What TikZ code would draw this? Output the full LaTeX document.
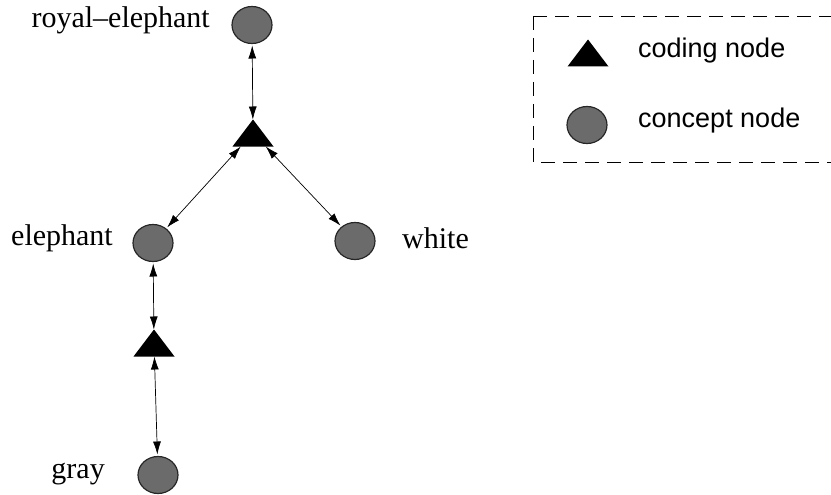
\documentclass[tikz,border=0pt]{standalone}
\usepackage{fontspec}
\setmainfont{Liberation Serif}
\newfontfamily\legendfont{Liberation Sans}
\usetikzlibrary{arrows.meta,shapes.geometric}
\tikzset{
  concept/.style={ellipse,draw=black!85,line width=1.2pt,fill=black!58,minimum width=40pt,minimum height=37pt,inner sep=0pt,outer sep=2pt},
  coding/.style={rectangle,draw=none,minimum width=37pt,minimum height=23pt,inner sep=0pt,outer sep=2pt},
  lbl/.style={font=\fontsize{30}{36}\selectfont,inner sep=0pt},
  leg/.style={font=\legendfont\fontsize{27}{32}\selectfont,inner sep=0pt,anchor=base west},
  link/.style={line width=0.7pt,{Latex[length=13pt,width=8pt]}-{Latex[length=13pt,width=8pt]}},
}
\begin{document}
\begin{tikzpicture}[x=1pt,y=-1pt]
\useasboundingbox (0,0) rectangle (831,495);
\clip (0,0) rectangle (831,495);
% nodes
\node[concept] (re) at (252,25) {};
\node[coding] (t1) at (253,133) {};
\node[concept] (el) at (153,243) {};
\node[concept] (wh) at (355,241) {};
\node[coding] (t2) at (154,343) {};
\node[concept] (gr) at (158,475) {};
\foreach \t in {t1,t2}{
  \fill (\t.south west) -- (\t.south east) -- (\t.north) -- cycle;
}
% labels
\node[lbl,anchor=base east] (lre) at (210,28) {royal–elephant};
\node[lbl,anchor=base east] (lel) at (113,245) {elephant};
\node[lbl,anchor=base west] (lwh) at (402,248) {white};
\node[lbl,anchor=base east] (lgr) at (105,478) {gray};
% connectors
\draw[link] (re) -- (t1);
\draw[link] (t1) -- (el);
\draw[link] (t1) -- (wh);
\draw[link] (el) -- (t2);
\draw[link] (t2) -- (gr);
% legend
\coordinate (lgnw) at (533,16);
\coordinate (lgse) at (845,162);
\draw[line width=0.7pt,dash pattern=on 14pt off 8pt] (lgnw) rectangle (lgse);
\node[coding] (lt) at (588,53) {};
\fill (lt.south west) -- (lt.south east) -- (lt.north) -- cycle;
\node[concept] (lc) at (587,125) {};
\node[leg] (ltx) at (638,58) {coding node};
\node[leg] (lcx) at (638,128) {concept node};
\end{tikzpicture}
\end{document}
